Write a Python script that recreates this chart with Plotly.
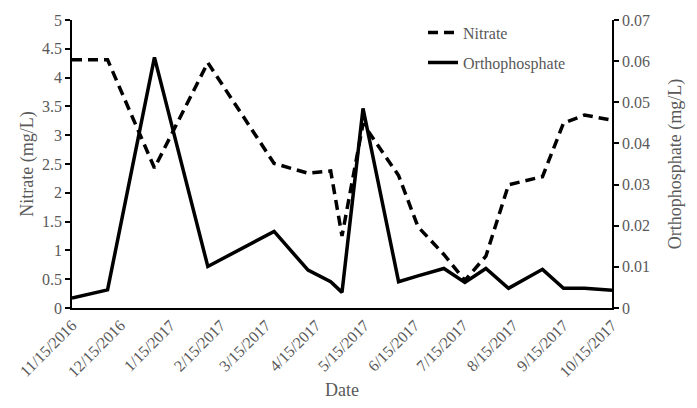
import plotly.graph_objects as go

dates = ["2016-11-15", "2016-12-07", "2017-01-05", "2017-02-07", "2017-03-20",
         "2017-04-10", "2017-04-24", "2017-05-01", "2017-05-14", "2017-06-05",
         "2017-06-17", "2017-07-03", "2017-07-16", "2017-07-29", "2017-08-12",
         "2017-09-02", "2017-09-15", "2017-09-28", "2017-10-15"]
nitrate = [4.31, 4.31, 2.43, 4.26, 2.51, 2.34, 2.38, 1.25, 3.2, 2.3,
           1.41, 0.93, 0.48, 0.9, 2.14, 2.28, 3.21, 3.35, 3.26]
ortho = [0.0024, 0.0044, 0.0609, 0.0101, 0.0186, 0.0092, 0.0064, 0.0038, 0.0485, 0.0064,
         0.0078, 0.0096, 0.0062, 0.0096, 0.0048, 0.0094, 0.0048, 0.0048, 0.0043]

tick_dates = ["2016-11-15", "2016-12-15", "2017-01-15", "2017-02-15", "2017-03-15",
              "2017-04-15", "2017-05-15", "2017-06-15", "2017-07-15", "2017-08-15",
              "2017-09-15", "2017-10-15"]
tick_labels = ["11/15/2016", "12/15/2016", "1/15/2017", "2/15/2017", "3/15/2017",
               "4/15/2017", "5/15/2017", "6/15/2017", "7/15/2017", "8/15/2017",
               "9/15/2017", "10/15/2017"]

FONT = "Liberation Serif"
GRAY = "#595959"

fig = go.Figure()
fig.add_trace(go.Scatter(x=dates, y=nitrate, name="Nitrate", mode="lines",
                         line=dict(color="black", width=3.5, dash="10px,6px"),
                         legendgroup="a", yaxis="y"))
fig.add_trace(go.Scatter(x=dates, y=ortho, name="Orthophosphate", mode="lines",
                         line=dict(color="black", width=3.5),
                         legendgroup="b", yaxis="y2"))

fig.update_layout(
    width=681, height=392,
    margin=dict(l=64, r=77, t=12, b=92, autoexpand=False),
    paper_bgcolor="white", plot_bgcolor="white",
    font=dict(family=FONT, color=GRAY, size=16),
    showlegend=True,
    legend=dict(x=0.65, y=1.015, xanchor="left", yanchor="top",
                bgcolor="rgba(0,0,0,0)", font=dict(family=FONT, size=16, color=GRAY),
                traceorder="grouped", tracegroupgap=6),
    xaxis=dict(type="date", range=["2016-11-15", "2017-10-15"],
               tickvals=tick_dates, ticktext=tick_labels, tickangle=-45,
               showline=True, linecolor="black", linewidth=1.5,
               showgrid=False, zeroline=False, ticks="",
               tickfont=dict(family=FONT, size=16, color=GRAY),
               title=dict(text="Date", font=dict(family=FONT, size=18, color=GRAY), standoff=10)),
    yaxis=dict(range=[0, 5], dtick=0.5, tick0=0,
               showline=True, linecolor="black", linewidth=1.5,
               showgrid=False, zeroline=False, ticks="outside", ticklen=5,
               tickcolor="black", tickwidth=1.5, automargin=True,
               tickfont=dict(family=FONT, size=16, color=GRAY),
               title=dict(text="Nitrate (mg/L)", font=dict(family=FONT, size=18, color=GRAY), standoff=4)),
    yaxis2=dict(range=[0, 0.07], dtick=0.01, tick0=0, overlaying="y", side="right",
                showline=True, linecolor="black", linewidth=1.5,
                showgrid=False, zeroline=False, ticks="outside", ticklen=5,
                tickcolor="black", tickwidth=1.5, automargin=True,
                tickfont=dict(family=FONT, size=16, color=GRAY),
                title=dict(text="Orthophosphate (mg/L)", font=dict(family=FONT, size=18, color=GRAY), standoff=19)),
)

fig.write_html("out.html")
